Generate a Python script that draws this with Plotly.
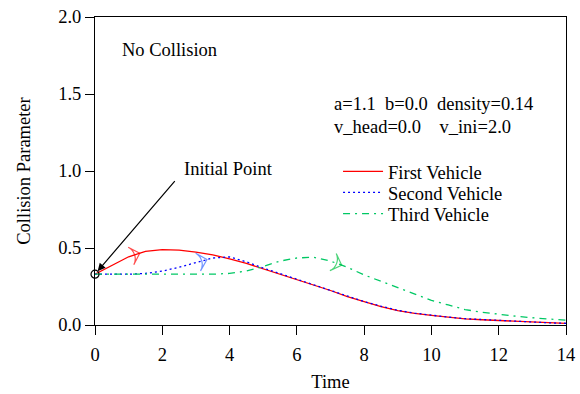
import plotly.graph_objects as go

time = [0.0, 0.5, 1.0, 1.5, 2.0, 2.5, 3.0, 3.5, 4.0, 4.5, 5.0, 5.5, 6.0, 6.5, 7.0,
        7.5, 8.0, 8.5, 9.0, 9.5, 10.0, 10.5, 11.0, 11.5, 12.0, 12.5, 13.0, 13.5, 14.0]
first_vehicle = [0.33, 0.387, 0.443, 0.478, 0.49, 0.486, 0.473, 0.455, 0.43, 0.40, 0.365,
                 0.33, 0.297, 0.26, 0.224, 0.185, 0.15, 0.12, 0.093, 0.075, 0.062, 0.05,
                 0.04, 0.034, 0.029, 0.022, 0.016, 0.013, 0.01]
second_vehicle = [0.33, 0.33, 0.33, 0.335, 0.35, 0.375, 0.405, 0.435, 0.442, 0.41, 0.37,
                  0.334, 0.299, 0.262, 0.226, 0.187, 0.152, 0.122, 0.095, 0.077, 0.063,
                  0.051, 0.041, 0.035, 0.03, 0.023, 0.017, 0.014, 0.011]
third_vehicle = [0.33, 0.33, 0.33, 0.33, 0.33, 0.33, 0.33, 0.33, 0.335, 0.35, 0.38, 0.415,
                 0.435, 0.44, 0.415, 0.375, 0.325, 0.285, 0.245, 0.2, 0.16, 0.13, 0.10,
                 0.083, 0.069, 0.057, 0.047, 0.038, 0.031]
series_names = ["First Vehicle", "Second Vehicle", "Third Vehicle"]
arrow_index = [3, 7, 15]
x_ticks = [0, 2, 4, 6, 8, 10, 12, 14]
y_ticks = [0.0, 0.5, 1.0, 1.5, 2.0]

FONT = "Liberation Serif, Times New Roman, serif"
FS = 18.5
colors = ["#ff0000", "#0000ff", "#00c864"]
arrow_colors = ["#ff0000", "#3366ff", "#00c040"]
dashes = ["solid", "2px,3px", "7px,5px,2px,5px"]
series = [first_vehicle, second_vehicle, third_vehicle]
legend_ids = ["legend", "legend2", "legend3"]
legend_y = [0.497, 0.429, 0.360]

fig = go.Figure()
for name, ys, c, d, lg in zip(series_names, series, colors, dashes, legend_ids):
    fig.add_trace(go.Scatter(x=time, y=ys, mode="lines", name=name, legend=lg,
                             line=dict(color=c, width=1.3, dash=d)))

for ys, ac, i in zip(series, arrow_colors, arrow_index):
    fig.add_trace(go.Scatter(
        x=time[i - 1:i + 1], y=ys[i - 1:i + 1], mode="markers", showlegend=False,
        hoverinfo="skip",
        marker=dict(symbol="arrow-wide-open", angleref="previous", size=[0, 13],
                    standoff=6, color=ac, line=dict(color=ac, width=1.2))))

fig.add_trace(go.Scatter(x=[time[0]], y=[first_vehicle[0]], mode="markers",
                         showlegend=False, hoverinfo="skip", cliponaxis=False,
                         marker=dict(symbol="circle-open", size=8, color="black",
                                     line=dict(color="black", width=1.2))))

fig.add_annotation(x=time[0], y=first_vehicle[0], xref="x", yref="y",
                   ax=2.41, ay=0.944, axref="x", ayref="y", text="",
                   showarrow=True, arrowhead=2, arrowsize=1.3, arrowwidth=1.2,
                   arrowcolor="black", standoff=4)
fig.add_annotation(x=2.59, y=1.01, xref="x", yref="y", text="Initial Point",
                   showarrow=False, xanchor="left", yanchor="middle",
                   font=dict(family=FONT, size=FS, color="black"))
fig.add_annotation(x=0.053, y=0.893, xref="paper", yref="paper", text="No Collision",
                   showarrow=False, xanchor="left", yanchor="middle",
                   font=dict(family=FONT, size=FS, color="black"))
fig.add_annotation(x=0.503, y=0.718, xref="paper", yref="paper",
                   text="a=1.1\u00a0\u00a0b=0.0\u00a0\u00a0density=0.14",
                   showarrow=False, xanchor="left", yanchor="middle",
                   font=dict(family=FONT, size=FS, color="black"))
fig.add_annotation(x=0.503, y=0.643, xref="paper", yref="paper",
                   text="v_head=0.0\u00a0\u00a0\u00a0\u00a0v_ini=2.0",
                   showarrow=False, xanchor="left", yanchor="middle",
                   font=dict(family=FONT, size=FS, color="black"))

axis_common = dict(showline=True, linecolor="black", linewidth=1, mirror=True,
                   ticks="outside", ticklen=9, tickcolor="black", tickwidth=1,
                   showgrid=False, zeroline=False,
                   tickfont=dict(family=FONT, size=FS, color="black"))
fig.update_xaxes(range=[0, 14], tickvals=x_ticks, ticklabelstandoff=4,
                 title=dict(text="Time", font=dict(family=FONT, size=FS, color="black"),
                            standoff=10), **axis_common)
fig.update_yaxes(range=[0, 2.0], tickvals=y_ticks, tickformat=".1f",
                 title=dict(text="Collision Parameter",
                            font=dict(family=FONT, size=FS, color="black"), standoff=22),
                 **axis_common)

legend_common = dict(x=0.516, xanchor="left", yanchor="middle",
                     bgcolor="rgba(0,0,0,0)", font=dict(family=FONT, size=FS, color="black"),
                     itemwidth=40)
fig.update_layout(
    width=580, height=394,
    margin=dict(l=95, r=14, t=17, b=69, autoexpand=False),
    paper_bgcolor="white", plot_bgcolor="white",
    font=dict(family=FONT, size=FS, color="black"),
    legend=dict(y=legend_y[0], **legend_common),
    legend2=dict(y=legend_y[1], **legend_common),
    legend3=dict(y=legend_y[2], **legend_common),
    showlegend=True,
)

fig.write_html("out.html", config={"displayModeBar": False},
               post_script="document.body.style.margin='0';")
